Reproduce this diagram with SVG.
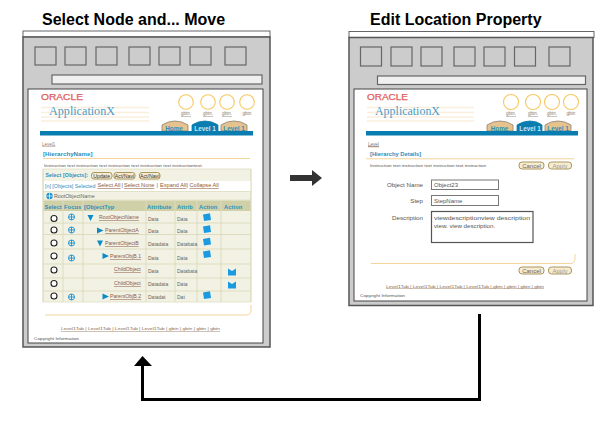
<svg xmlns="http://www.w3.org/2000/svg" width="616" height="423" viewBox="0 0 616 423">
<style>
text{font-family:"Liberation Sans",Arial,sans-serif;fill:#555}
.title{font-size:16px;font-weight:bold;fill:#000}
.frame{fill:#ccc;stroke:#555;stroke-width:1.5}
.tbar{fill:#fff;stroke:#666;stroke-width:1}
.tool{fill:#ccc;stroke:#666;stroke-width:1.2}
.addr{fill:#f0f0f0;stroke:#666;stroke-width:1.2}
.page{fill:#fff;stroke:#444;stroke-width:1}
.oracle{font-size:8.4px;fill:#e2605f;stroke:#e2605f;stroke-width:.25}
.app{font-family:"Liberation Serif",serif;font-size:13px;fill:#4d9cc4}
.stripe{stroke:#fbeedd;stroke-width:1.4}
.glob{fill:#fff;stroke:#f6c860;stroke-width:1.1}
.gb{font-size:4.5px;fill:#8a7a6a;text-anchor:middle;text-decoration:underline}
.tab{fill:#e6c28e;stroke:#8a8478;stroke-width:.8}
.tabb{fill:#0a7db0;stroke:#0a7db0;stroke-width:.8}
.tabt{font-size:6.3px;font-weight:bold;fill:#2a8fbe;text-anchor:middle}
.tabw{font-size:6.3px;font-weight:bold;fill:#cfe6f2;text-anchor:middle}
.bar{fill:#0a7db0}
.lvl{font-size:4.5px;fill:#9a7a5a;text-decoration:underline}
.h{font-size:6.2px;font-weight:bold;fill:#2a8fbe}
.rule{stroke:#f3cf8f;stroke-width:.9;fill:none}
.ins{font-size:3.95px;fill:#555}
.btn{fill:#f6ecd0;stroke:#a58a50;stroke-width:.9}
.bt{font-size:6px;fill:#666;text-anchor:middle}
.tbt{font-size:5.2px;fill:#333;text-anchor:middle}
.lnk{font-size:5.6px;fill:#8a5a3a;text-decoration:underline}
.sep{font-size:5.6px;fill:#666}
.sel{font-size:5.3px;fill:#2a8fbe}
.hdr{font-size:5.7px;font-weight:bold;fill:#2a8fbe;letter-spacing:.1px}
.cell{font-size:5px;fill:#666}
.ln{font-size:5.2px;fill:#8a5a4a;text-decoration:underline}
.rad{fill:#fff;stroke:#222;stroke-width:1.1}
.foc{fill:none;stroke:#1a8fd0;stroke-width:.9}
.fol{fill:#1a9ae0}
.tri{fill:#0a8ac8}
.foot{font-size:4.2px;fill:#8a6a4a;text-decoration:underline}
.cp{font-size:4.2px;fill:#555}
.inp{fill:#fff;stroke:#777;stroke-width:1}
.lab{font-size:6.2px;fill:#555;text-anchor:end}
.val{font-size:6px;fill:#555}
.conn{fill:none;stroke:#000;stroke-width:3}
</style>
<defs>
<g id="foc" class="foc"><circle r="3"/><path d="M-3 0H3M0-3V3"/></g>
<path id="fo" class="fol" d="M-4-3L3-4.300 4 2.500-3 3.500Z"/>
<path id="fo2" class="fol" d="M-4-3.500L0-1 4-3.500V3.500H-4Z"/>
<path id="td" class="tri" d="M-3-3H3L0 3Z"/>
<path id="tr" class="tri" d="M-3-3L3.500 0-3 3Z"/>
</defs>

<g id="left-screen">
<text class="title" x="42" y="25">Select Node and... Move</text>
<rect class="tbar" x="23" y="31" width="247" height="6"/>
<rect class="frame" x="23" y="37" width="247" height="310"/>
<rect class="tool" x="35" y="47" width="21" height="18"/><rect class="tool" x="65" y="47" width="21" height="18"/><rect class="tool" x="96" y="47" width="21" height="18"/><rect class="tool" x="129" y="47" width="21" height="18"/><rect class="tool" x="159" y="47" width="21" height="18"/><rect class="tool" x="190" y="47" width="21" height="18"/><rect class="tool" x="225" y="47" width="21" height="18"/>
<rect class="addr" x="52" y="75" width="210" height="9"/>
<rect class="page" x="28" y="89" width="235" height="254"/>
<text class="oracle" x="41" y="100" textLength="42" lengthAdjust="spacingAndGlyphs">ORACLE</text>
<path class="stripe" d="M41 107.500H149M41 112.500H149M41 117H149M41 121H149"/>
<text class="app" x="49" y="115" textLength="66" lengthAdjust="spacingAndGlyphs">ApplicationX</text>
<circle class="glob" cx="186" cy="102" r="7.300"/><circle class="glob" cx="208" cy="102" r="7.300"/><circle class="glob" cx="227" cy="102" r="7.300"/><circle class="glob" cx="247" cy="102" r="7.300"/>
<text class="gb" x="186" y="115">gbtn.</text><text class="gb" x="208" y="115">gbtn.</text><text class="gb" x="227" y="115">gbtn.</text><text class="gb" x="247" y="115" style="text-decoration:none">gbtn</text>
<path class="tab" d="M162 131V125Q168 121 175 121Q182 121 188 125V131Z"/>
<path class="tabb" d="M192 131V125Q198 121 205 121Q212 121 218 125V131Z"/>
<path class="tab" d="M221 131V125Q227 121 234 121Q241 121 247 125V131Z"/>
<text class="tabt" x="174" y="130.500">Home</text><text class="tabw" x="205" y="130.500">Level 1</text><text class="tabt" x="234" y="130.500">Level 1</text>
<rect class="bar" x="40" y="131" width="213" height="4.500"/>
<text class="lvl" x="42" y="145.500">Level1</text>
<text class="h" x="43" y="156">[HierarchyName]</text>
<path class="rule" d="M43 158.500H250"/>
<text class="ins" x="44" y="166.500" textLength="159" lengthAdjust="spacingAndGlyphs">Instruction text instruction text instruction text instruction text instructiontext.</text>
<rect x="43" y="169" width="208" height="133" fill="#f2f2e4" stroke="#dedec4" stroke-width=".8"/>
<rect x="44" y="181" width="207" height="10" fill="#fff"/>
<text class="hdr" x="45.500" y="177" style="font-size:5.200px">Select [Objects]:</text>
<rect class="btn" x="91.500" y="172.500" width="20.500" height="6.500" rx="2.500"/><rect class="btn" x="114" y="172.500" width="21" height="6.500" rx="2.500"/><rect class="btn" x="139.500" y="172.500" width="20.500" height="6.500" rx="2.500"/>
<text class="tbt" x="101.700" y="177.800">Update</text><text class="tbt" x="124.500" y="177.800">Act/Navi</text><text class="tbt" x="149.700" y="177.800">Act/Navi</text>
<text class="sel" x="45" y="187.500">[n] [Objects] Selected</text>
<text class="lnk" x="97.500" y="187">Select All</text><text class="sep" x="121.500" y="187">|</text><text class="lnk" x="124" y="187">Select None</text><text class="sep" x="156.500" y="187">|</text><text class="lnk" x="160" y="187">Expand All</text><text class="sep" x="186.500" y="187">|</text><text class="lnk" x="189.500" y="187">Collapse All</text>
<rect x="43.500" y="191.500" width="207" height="8.500" fill="#f2f2e4" stroke="#dedec4" stroke-width=".8"/>
<circle cx="49.500" cy="196" r="3.200" fill="#1a8fd0"/><path d="M46.500 196H52.500M49.500 193V199" stroke="#fff" stroke-width=".7"/>
<text class="cell" x="54" y="197.800" style="font-size:5.300px">RootObjectName</text>
<rect x="43.500" y="200.500" width="207.500" height="10.500" fill="#cfcfa8"/>
<text class="hdr" x="44.500" y="209">Select</text><text class="hdr" x="64" y="209">Focus</text><text class="hdr" x="84" y="209">[ObjectTyp</text><text class="hdr" x="147" y="209">Attribute</text><text class="hdr" x="177" y="209">Attrib</text><text class="hdr" x="199" y="209">Action</text><text class="hdr" x="224" y="209">Action</text>
<path d="M43 223H251M43 234.500H251M43 249H251M43 264H251M43 278H251M43 291H251" stroke="#dcdcc0" stroke-width="1" fill="none"/>
<path d="M63 200V302M83 200V302M146 200V302M175 200V302M197 200V302M221 200V302M251 169V302M43 169V302" stroke="#dcdcc0" stroke-width="1" fill="none"/>
<circle class="rad" cx="54" cy="218.500" r="3"/><circle class="rad" cx="54" cy="230" r="3"/><circle class="rad" cx="54" cy="243" r="3"/><circle class="rad" cx="54" cy="256" r="3"/><circle class="rad" cx="54" cy="270" r="3"/><circle class="rad" cx="54" cy="283.500" r="3"/><circle class="rad" cx="54" cy="296" r="3"/>
<use href="#foc" x="71.500" y="217"/><use href="#foc" x="71.500" y="230"/><use href="#foc" x="71.500" y="243"/><use href="#foc" x="71.500" y="258"/><use href="#foc" x="71.500" y="297"/>
<use href="#td" x="90.500" y="218"/><use href="#tr" x="100" y="230.500"/><use href="#td" x="100" y="243.500"/><use href="#tr" x="105.500" y="256"/><use href="#tr" x="105.500" y="296.500"/>
<text class="ln" x="99" y="219">RootObjectName</text><text class="ln" x="105" y="232">ParentObjectA</text><text class="ln" x="105" y="245">ParentObjectB</text><text class="ln" x="110" y="258">ParentObjB.1</text><text class="ln" x="114" y="271">ChildObject</text><text class="ln" x="114" y="285">ChildObject</text><text class="ln" x="110" y="298">ParentObjB.2</text>
<text class="cell" x="148" y="220.500">Data</text><text class="cell" x="177" y="220.500">Data</text><text class="cell" x="148" y="233">Data</text><text class="cell" x="177" y="233">Data</text><text class="cell" x="148" y="246">Datadata</text><text class="cell" x="177" y="246">Databata</text><text class="cell" x="148" y="259.500">Data</text><text class="cell" x="177" y="259.500">Data</text><text class="cell" x="148" y="272.500">Data</text><text class="cell" x="177" y="272.500">Databata</text><text class="cell" x="148" y="286">Datadata</text><text class="cell" x="177" y="286">Data</text><text class="cell" x="148" y="299">Datadat</text><text class="cell" x="177" y="299">Dat</text>
<use href="#fo" x="207" y="217.500"/><use href="#fo" x="207" y="229.500"/><use href="#fo" x="207" y="242"/><use href="#fo" x="207" y="254.500"/><use href="#fo" x="207" y="295.500"/>
<use href="#fo2" x="232" y="272"/><use href="#fo2" x="232" y="285"/>
<path class="rule" d="M45 315H246Q251 315 251 310V305"/>
<text class="foot" x="61" y="330" textLength="159" lengthAdjust="spacingAndGlyphs">Level1Tab | Level1Tab | Level1Tab | Level1Tab | gbtn | gbtn | gbtn | gbtn</text>
<text class="cp" x="34" y="339.500" textLength="45" lengthAdjust="spacingAndGlyphs">Copyright Information</text>
</g>

<g id="right-screen">
<text class="title" x="370" y="25">Edit Location Property</text>
<rect class="tbar" x="349" y="31.500" width="245" height="6"/>
<rect class="frame" x="349" y="37.500" width="244" height="268"/>
<rect class="tool" x="360.500" y="47" width="21" height="19"/><rect class="tool" x="391" y="47" width="21" height="19"/><rect class="tool" x="421" y="47" width="21" height="19"/><rect class="tool" x="454" y="47" width="21" height="19"/><rect class="tool" x="484" y="47" width="21" height="19"/><rect class="tool" x="514.500" y="47" width="21" height="19"/><rect class="tool" x="549" y="47" width="21" height="19"/>
<rect class="addr" x="377.500" y="76" width="208" height="8.500"/>
<rect class="page" x="354" y="89" width="233" height="212"/>
<text class="oracle" x="367" y="100" textLength="41" lengthAdjust="spacingAndGlyphs">ORACLE</text>
<path class="stripe" d="M367 107.500H474M367 112.500H474M367 117H474M367 121H474"/>
<text class="app" x="375" y="115" textLength="65" lengthAdjust="spacingAndGlyphs">ApplicationX</text>
<circle class="glob" cx="511" cy="102" r="7.500"/><circle class="glob" cx="533" cy="102" r="7.500"/><circle class="glob" cx="552" cy="102" r="7.500"/><circle class="glob" cx="571" cy="102" r="7.500"/>
<text class="gb" x="511" y="115">gbtn.</text><text class="gb" x="533" y="115">gbtn.</text><text class="gb" x="552" y="115">gbtn.</text><text class="gb" x="571" y="115" style="text-decoration:none">gbtn</text>
<path class="tab" d="M487 131V125Q493 121 500 121Q507 121 513 125V131Z"/>
<path class="tabb" d="M517 131V125Q523 121 530 121Q537 121 542 125V131Z"/>
<path class="tab" d="M545 131V125Q551 121 558 121Q565 121 571 125V131Z"/>
<text class="tabt" x="499.500" y="130.500">Home</text><text class="tabw" x="530" y="130.500">Level 1</text><text class="tabt" x="558" y="130.500">Level 1</text>
<rect class="bar" x="366" y="131" width="212" height="4.500"/>
<text class="lvl" x="368" y="145.500" style="text-decoration:none;fill:#777">Level</text>
<path d="M368 146.700H379" stroke="#8a5a3a" stroke-width=".8"/>
<text class="h" x="370" y="156" style="font-size:5.800px">[Hierarchy Details]</text>
<path class="rule" d="M366 158.800H574"/>
<text class="ins" x="370" y="166.500" textLength="116" lengthAdjust="spacingAndGlyphs">Instruction text instruction text instruction text instruction</text>
<rect class="btn" x="519" y="162" width="25" height="7" rx="3"/><rect class="btn" x="548.500" y="162" width="23" height="7" rx="3"/>
<text class="bt" x="531.500" y="167.900">Cancel</text><text class="bt" x="560" y="167.900" style="fill:#999">Apply</text>
<text class="lab" x="423" y="187">Object Name</text><rect class="inp" x="431.500" y="180" width="67" height="9.500"/><text class="val" x="434" y="187">Object23</text>
<text class="lab" x="423" y="203">Step</text><rect class="inp" x="431.500" y="195.500" width="67" height="10"/><text class="val" x="434" y="203">StepName</text>
<text class="lab" x="423" y="219.500">Description</text><rect class="inp" x="431.500" y="211.500" width="101.500" height="31" style="stroke-width:1.200;stroke:#555"/>
<text class="val" x="434" y="219.500" style="font-size:6.200px" textLength="96" lengthAdjust="spacingAndGlyphs">viewdescriptionview description</text><text class="val" x="434" y="227.500" style="font-size:6.200px">view. view description.</text>
<path class="rule" d="M371 263.500H570Q575 263.500 575 258.500V254"/>
<rect class="btn" x="519" y="267" width="25" height="7" rx="3"/><rect class="btn" x="548.500" y="267" width="23" height="7" rx="3"/>
<text class="bt" x="531.500" y="272.900">Cancel</text><text class="bt" x="560" y="272.900" style="fill:#999">Apply</text>
<text class="foot" x="386" y="287.500" textLength="158" lengthAdjust="spacingAndGlyphs">Level1Tab | Level1Tab | Level1Tab | Level1Tab | gbtn | gbtn | gbtn | gbtn</text>
<text class="cp" x="360" y="296.500" textLength="45" lengthAdjust="spacingAndGlyphs">Copyright Information</text>
</g>

<g id="connectors">
<path d="M290 175H312V170L322 178 312 186V181H290Z" fill="#333"/>
<path class="conn" d="M479.500 314V399.500H142.500V364"/>
<path d="M134 366L142.500 356 152 366Z" fill="#000"/>
</g>
</svg>
